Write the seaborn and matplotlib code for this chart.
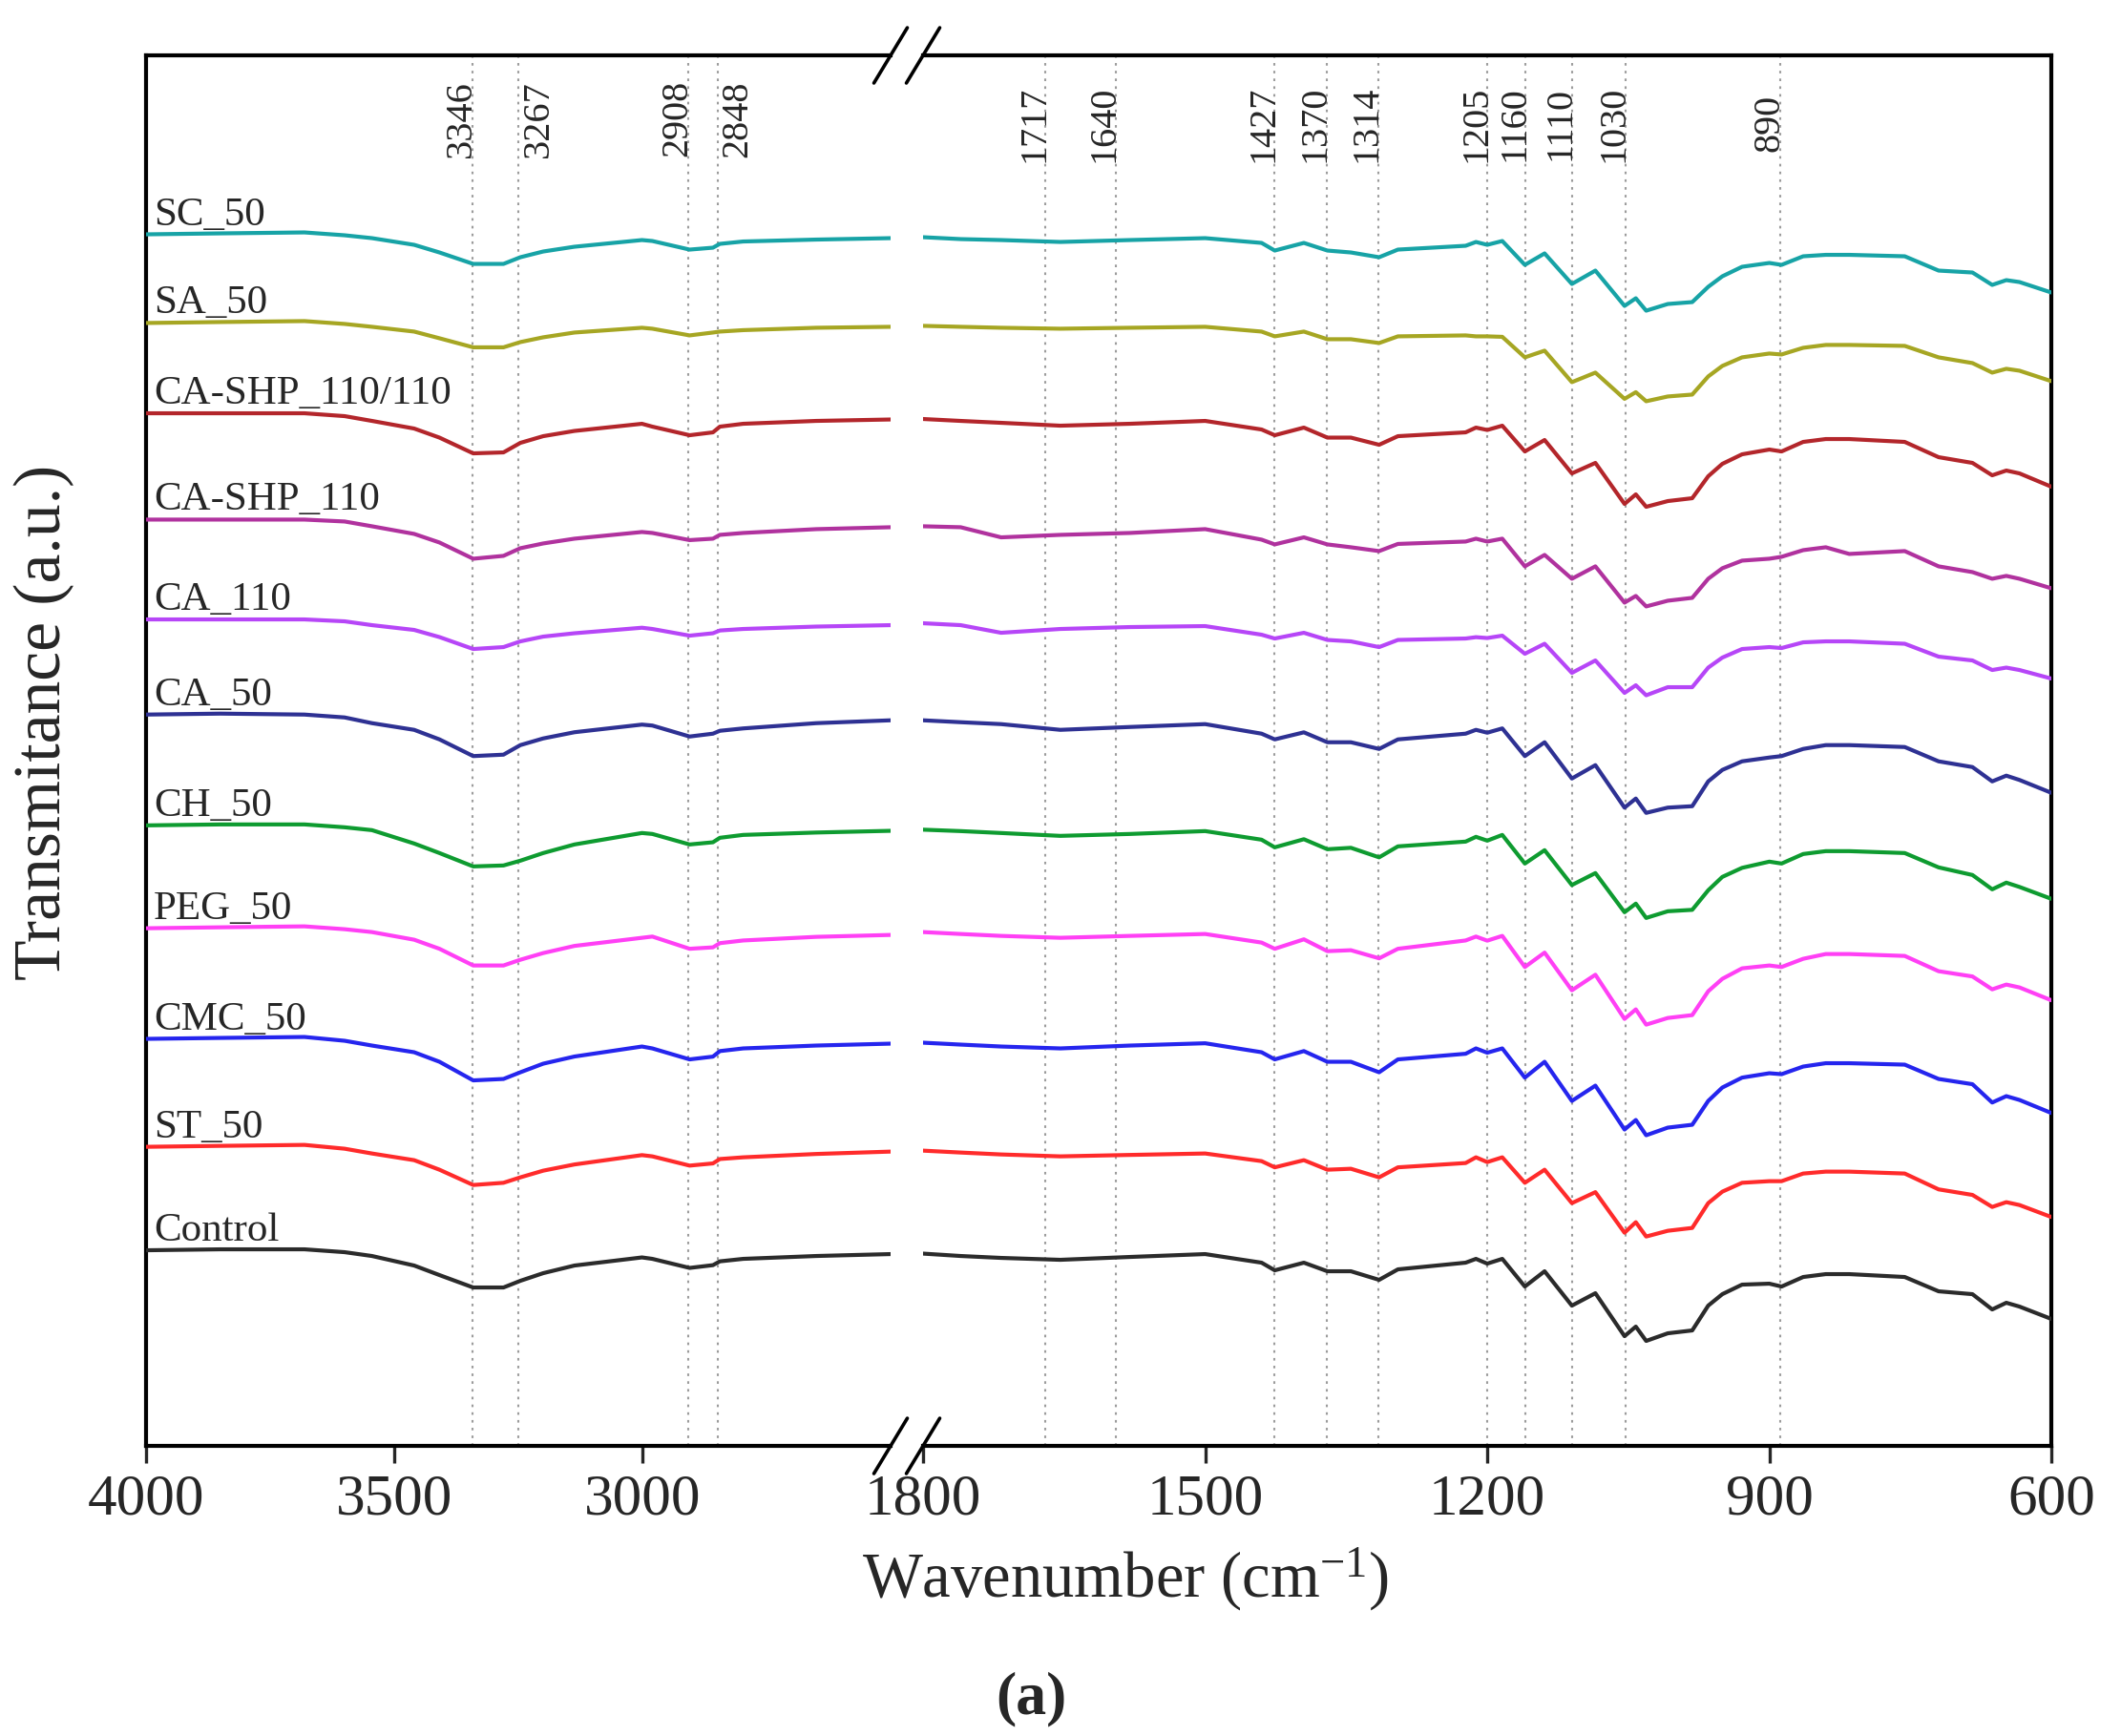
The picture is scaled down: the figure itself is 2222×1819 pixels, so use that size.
import matplotlib
matplotlib.use("Agg")
import matplotlib.pyplot as plt
import pandas as pd
import seaborn as sns

# sample names (top to bottom) and their colours
samples = ["SC_50", "SA_50", "CA-SHP_110/110", "CA-SHP_110", "CA_110", "CA_50",
           "CH_50", "PEG_50", "CMC_50", "ST_50", "Control"]
colors = ["#17A3A6", "#A6A623", "#B3262B", "#B0329E", "#B646F7", "#2E3193",
          "#0E9B30", "#FF40F5", "#2525EE", "#FF2B2B", "#2B2B2B"]
# vertical stacking offset of each spectrum (a.u.)
offsets = [1269.5, 1176.6, 1082, 970.6, 866, 766.3, 650.2, 542.4, 426.5, 313.4, 205]

# wavenumber grids of the two panels
wn_hi = [4000, 3850, 3681, 3600, 3545, 3460, 3409, 3341, 3280, 3246, 3200, 3137,
         3001, 2980, 2905, 2858, 2844, 2797, 2650, 2500]
wn_lo = [1800, 1760, 1717, 1654, 1580, 1500, 1440, 1426, 1395, 1370, 1345,
         1315, 1295, 1223, 1212, 1200, 1184, 1160, 1139, 1110, 1085, 1054,
         1042, 1031, 1008, 982, 965, 950, 929, 900, 887, 864, 840, 815, 756, 720,
         684, 663, 648, 634, 600]

# transmittance drop (a.u., positive = down)
sc50_hi = [0, -1, -2, 1, 4, 11, 19, 31, 31, 24, 18, 13, 6, 7, 16, 14, 10, 7.5, 5.5, 4]
sc50_lo = [3, 5, 6, 8, 6, 4, 9, 17, 9, 17, 19, 24, 16, 12, 8, 11, 7, 32, 20, 52,
           38, 75, 67, 80, 73, 71, 55, 44, 34, 30, 32, 23, 21.5, 21.5, 23, 38, 40, 53, 48, 50, 61]
sa50_hi = [0, -1, -2, 1, 4, 9, 16, 25.5, 25.5, 20, 15, 10, 5, 6, 13, 10, 9, 7.5, 5, 4]
sa50_lo = [3, 4, 5, 6, 5, 4, 9, 14, 9, 17, 17, 21, 14, 13, 14, 14, 14.5, 36, 29, 62,
           52, 79.5, 72.5, 82, 77, 75, 56, 45, 36, 32, 33, 26, 23, 23, 24, 36, 42, 52, 48, 50, 61]
cashp110110_hi = [0, 0, 0, 3, 8, 16, 25.5, 42, 41, 31, 24, 18.5, 11, 14, 23, 20, 14, 11, 8, 6.5]
cashp110110_lo = [6, 8, 10, 13, 11, 8, 17, 23, 15, 25.5, 25.5, 33, 24, 20, 15, 17.5, 13, 40, 28, 63,
                  52, 95, 85, 98, 92, 89, 66, 53, 43, 38, 40, 30, 27, 27, 30, 46, 52, 65, 60, 63, 77]
cashp110_hi = [0, 0, 0, 2, 7, 15, 24, 41, 38, 30, 25, 20, 13, 14, 21.5, 20, 16, 14, 10, 8]
cashp110_lo = [7, 8, 18.6, 16, 14, 10, 21, 26, 18.6, 26, 29, 33, 25.5, 23, 20, 23, 20, 49, 37, 62,
               49, 87, 80, 91, 85, 82, 62, 51, 43, 41, 39, 32, 29, 36, 33, 49, 55, 62, 59, 62, 72]
ca110_hi = [0, 0, 0, 2, 6, 11, 18.5, 31, 29, 23, 18, 14.5, 8.7, 10, 17, 14.5, 11.6, 10, 7.5, 6]
ca110_lo = [4, 6, 14, 10, 8, 7, 16, 20, 14, 21.5, 23, 29, 21.5, 20, 18.6, 19.5, 17, 36, 25.5, 56,
            43, 77, 69, 79.5, 71, 71, 50.5, 40, 31, 29, 30, 24, 23, 23, 25.5, 39, 43, 53, 50.5, 53, 62]
ca50_hi = [0, -1, 0, 3, 9, 16, 26, 43.5, 42, 32, 25, 18.5, 10.5, 11.5, 23, 20, 17, 14.5, 9, 6]
ca50_lo = [6, 8, 10, 16, 13, 10, 20, 26, 18.6, 29, 29, 36, 26, 20, 16, 19, 14.5, 43.5, 29, 67,
           53, 97.5, 88, 103, 97.5, 96, 70, 58, 49, 45, 43.5, 36, 32, 32, 34, 49, 55, 70, 64, 68.5, 82]
ch50_hi = [0, -1, -1, 2, 5, 19, 29, 43, 42, 37, 29, 20, 8, 9, 20, 17.7, 13, 10, 7.5, 5.7]
ch50_lo = [4.5, 6, 8, 11, 9, 6, 15, 23, 14.5, 25, 23.5, 33.5, 22, 17, 12, 16, 10, 40, 26, 62.5,
           50, 91, 82, 97, 90, 88.5, 68, 54, 44.5, 38, 40, 30, 27, 27, 29, 44, 52, 67, 60, 64.5, 77]
peg50_hi = [0, -1, -2, 1, 4, 12, 21.5, 39, 39, 33, 26, 18.5, 10, 8.7, 21.5, 20, 15.6, 12.8, 9, 7]
peg50_lo = [4, 6, 8, 10, 8, 6, 15, 21.5, 11.6, 24, 23, 31.5, 21.5, 12.8, 8.7, 13, 8, 40.6, 25.5, 65,
            48.7, 95, 85, 101, 94, 91, 66, 53, 42, 39, 40.6, 32, 27, 27, 29, 45, 50.5, 64, 59, 62, 75.5]
cmc50_hi = [0, -1, -2, 2, 7, 14, 24, 43.5, 42, 35, 26, 18.5, 8, 10, 21.5, 18.6, 12.8, 10, 7, 5]
cmc50_lo = [4, 6, 8, 10, 7, 4.6, 14, 21.5, 12.8, 24, 24, 35, 21.5, 15.6, 10, 14.5, 10, 40.6, 24, 65,
            49, 95, 85, 101, 93, 90, 65, 51, 40.6, 36, 37, 29, 25.5, 25.5, 27, 42, 47.5, 66.7, 60, 64, 77.7]
st50_hi = [0, -1, -2, 2, 7, 14, 24, 40, 37.7, 32, 25, 18.5, 8.7, 10, 19.7, 17.4, 12.8, 11, 7.5, 5]
st50_lo = [4, 6, 8, 10, 8.5, 7, 15, 21.5, 14, 24, 23, 32, 21.5, 17, 11, 16, 11, 37.7, 24, 59,
           47.5, 90, 79, 94, 88, 85, 59, 47, 37.7, 36, 36, 28, 26, 26, 28, 44.6, 50.4, 63, 58, 61, 73.6]
control_hi = [0, -1, -1, 2, 6, 16, 26, 39, 39, 32, 24, 16, 7.5, 9, 18.5, 15.6, 11.6, 9, 6, 4]
control_lo = [3.5, 6, 8, 10, 7, 4, 13, 21, 13, 22, 22, 31, 20, 13, 9, 14, 9, 38, 22, 58,
              45, 90, 80, 95, 87, 84, 58, 46, 36, 35, 38, 28, 25, 25, 28, 43, 46, 62, 55, 59, 72]

# marked bands: label text and where the dotted line sits in the picture
peak_labels = ["3346", "3267", "2908", "2848", "1717", "1640", "1427", "1370",
               "1314", "1205", "1160", "1110", "1030", "890"]
peak_lines = [3343, 3250, 2908, 2849, 1670, 1595, 1426, 1371, 1316, 1200,
              1159, 1110, 1053, 888]
peak_side = ["right", "left", "right", "left"] + ["right"] * 10

spectra_hi = [sc50_hi, sa50_hi, cashp110110_hi, cashp110_hi, ca110_hi, ca50_hi,
              ch50_hi, peg50_hi, cmc50_hi, st50_hi, control_hi]
spectra_lo = [sc50_lo, sa50_lo, cashp110110_lo, cashp110_lo, ca110_lo, ca50_lo,
              ch50_lo, peg50_lo, cmc50_lo, st50_lo, control_lo]

rows = []
for name, off, hi, lo in zip(samples, offsets, spectra_hi, spectra_lo):
    for w, d in zip(wn_hi, hi):
        rows.append({"sample": name, "panel": "hi", "wn": w, "T": off - d})
    for w, d in zip(wn_lo, lo):
        rows.append({"sample": name, "panel": "lo", "wn": w, "T": off - d})
df = pd.DataFrame(rows)
palette = dict(zip(samples, colors))

sns.set_style("white")
plt.rcParams["font.family"] = ["Liberation Serif", "DejaVu Serif"]
plt.rcParams["mathtext.fontset"] = "custom"
plt.rcParams["mathtext.rm"] = "Liberation Serif"
plt.rcParams["mathtext.it"] = "Liberation Serif:italic"
plt.rcParams["lines.solid_joinstyle"] = "round"

fig = plt.figure(figsize=(22.22, 18.19), dpi=100)
bottom, height = 0.1671, 0.8010
ax1 = fig.add_axes([0.0689, bottom, 0.3510, height])
ax2 = fig.add_axes([0.4352, bottom, 0.5320, height])

for ax, panel, xlim, ticks in [(ax1, "hi", (4000, 2500), [4000, 3500, 3000]),
                               (ax2, "lo", (1800, 600), [1800, 1500, 1200, 900, 600])]:
    sub = df[df.panel == panel]
    sns.lineplot(data=sub, x="wn", y="T", hue="sample", palette=palette,
                 estimator=None, sort=False, lw=3.0, legend=False, ax=ax, zorder=3)
    ax.set_xlim(*xlim)
    ax.set_ylim(0, 1457)
    ax.set_xticks(ticks)
    ax.set_yticks([])
    ax.set(xlabel="", ylabel="")
    ax.tick_params(axis="x", direction="out", length=13, width=2.4,
                   labelsize=44, pad=8, bottom=True)
    for s in ax.spines.values():
        s.set_linewidth(3.0)
        s.set_color("black")

ax1.spines["right"].set_visible(False)
ax2.spines["left"].set_visible(False)

# dotted band markers and their labels
for lbl, pos, side in zip(peak_labels, peak_lines, peak_side):
    ax = ax1 if pos > 2000 else ax2
    ax.axvline(pos, color="#9c9c9c", lw=1.5, ls=(0, (1.3, 2.6)), zorder=1)
    ycen = 0.9545 if ax is ax1 else 0.951
    dx = 5 if side == "right" else 2
    ax.annotate(lbl, xy=(pos, ycen), xycoords=("data", "axes fraction"),
                xytext=(dx, 0), textcoords="offset points", rotation=90,
                ha=side, va="center", fontsize=29)

# sample names above each spectrum
for name, off in zip(samples, offsets):
    ax1.text(3985, off + 10, name, fontsize=31, ha="left", va="baseline", zorder=4)

# axis break marks
for ax, xb, w in [(ax1, 1.0, 780), (ax2, 0.0, 1182)]:
    dx = 17.5 / w
    dy = 29 / 1457
    for yb in (0, 1):
        ax.plot([xb - dx, xb + dx], [yb - dy, yb + dy], transform=ax.transAxes,
                color="black", lw=2.6, clip_on=False, zorder=5)

fig.text(0.5306, 0.0902, "Wavenumber (cm$^{-1}$)", fontsize=48, ha="center", va="center")
fig.text(0.0207, 0.5838, "Transmitance (a.u.)", fontsize=50, rotation=90,
         ha="center", va="center")
fig.text(0.486, 0.021, "(a)", fontsize=46, fontweight="bold", ha="center", va="center")

fig.savefig("out.png", dpi=100, facecolor="white")
